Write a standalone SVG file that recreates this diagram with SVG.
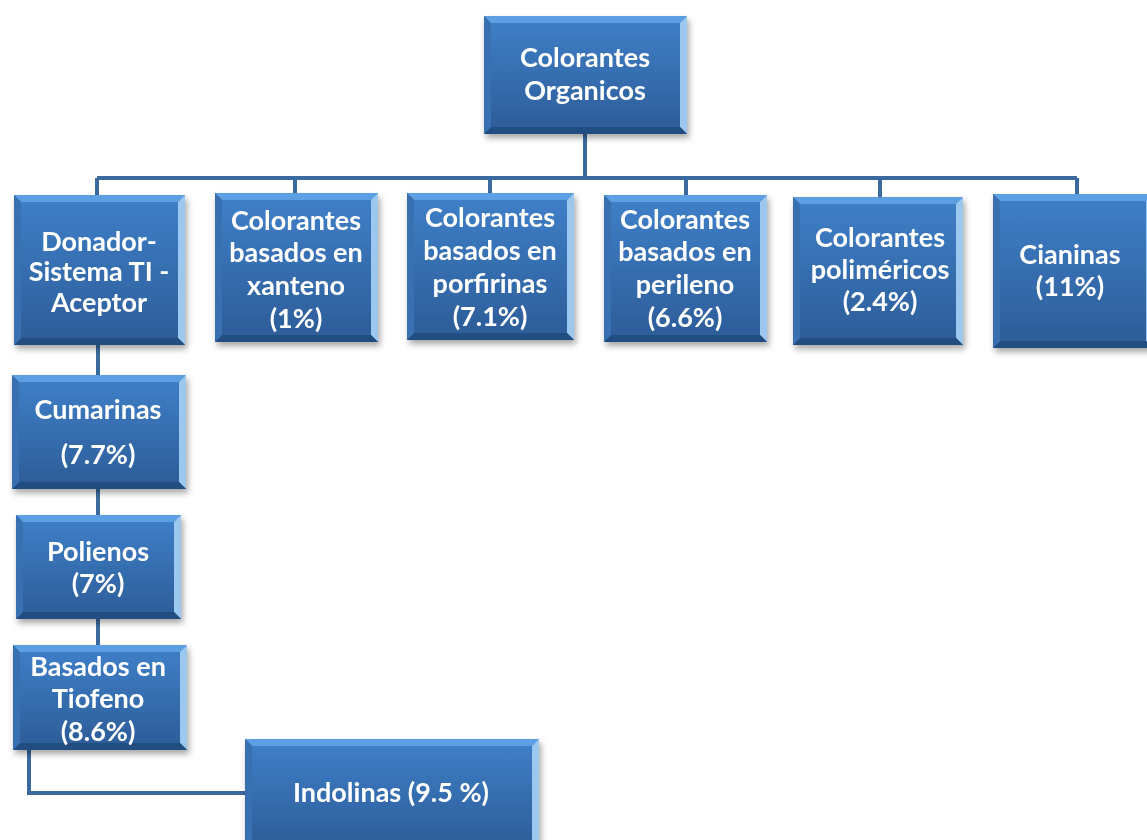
<svg xmlns="http://www.w3.org/2000/svg" width="1147" height="840" viewBox="0 0 1147 840">
<defs>
<linearGradient id="g" x1="0" y1="0" x2="0" y2="1">
<stop offset="0" stop-color="#3f80c9"/>
<stop offset="1" stop-color="#2c5c97"/>
</linearGradient>
<filter id="sh" x="-10%" y="-10%" width="130%" height="130%">
<feDropShadow dx="2" dy="4" stdDeviation="3" flood-color="#000" flood-opacity="0.35"/>
</filter>
</defs>
<style>
.box{fill:url(#g)}
.bt{fill:#5d9fe3}
.br{fill:#9cc8f0}
.bb{fill:#244d80}
.bl{fill:#3870b2}
.n{filter:url(#sh)}
.t{font-family:Lato,"Open Sans","DejaVu Sans",sans-serif;font-weight:700;font-size:27px;fill:#fff;text-anchor:middle}
.c{fill:none;stroke:#3b6a9f;stroke-width:4}
</style>
<rect width="1147" height="840" fill="#fff"/>
<g id="connectors" class="c">
<path d="M585,134 V178"/>
<path d="M97,178 H1077"/>
<path d="M97,178 V195 M295,178 V193 M490,178 V193 M686,178 V195 M880,178 V197 M1077,178 V194"/>
<path d="M98,345 V375 M98,489 V515 M98,619 V645"/>
<path d="M29,750 V793 H245"/>
</g>
<g id="root" class="n">
<rect class="box" x="484" y="16" width="203" height="118"/>
<polygon class="bt" points="484,16 687,16 680,23 491,23"/>
<polygon class="br" points="687,16 687,134 680,127 680,23"/>
<polygon class="bb" points="484,134 687,134 680,127 491,127"/>
<polygon class="bl" points="484,16 491,23 491,127 484,134"/>
<text class="t" x="585" y="67">Colorantes</text>
<text class="t" x="585" y="100">Organicos</text>
</g>
<g id="donador" class="n">
<rect class="box" x="14" y="195" width="171" height="150"/>
<polygon class="bt" points="14,195 185,195 178,202 21,202"/>
<polygon class="br" points="185,195 185,345 178,338 178,202"/>
<polygon class="bb" points="14,345 185,345 178,338 21,338"/>
<polygon class="bl" points="14,195 21,202 21,338 14,345"/>
<text class="t" x="99" y="251">Donador-</text>
<text class="t" x="99" y="281">Sistema TI -</text>
<text class="t" x="99" y="312">Aceptor</text>
</g>
<g id="xanteno" class="n">
<rect class="box" x="215" y="193" width="163" height="149"/>
<polygon class="bt" points="215,193 378,193 371,200 222,200"/>
<polygon class="br" points="378,193 378,342 371,335 371,200"/>
<polygon class="bb" points="215,342 378,342 371,335 222,335"/>
<polygon class="bl" points="215,193 222,200 222,335 215,342"/>
<text class="t" x="296" y="230">Colorantes</text>
<text class="t" x="296" y="262">basados en</text>
<text class="t" x="296" y="295">xanteno</text>
<text class="t" x="296" y="328">(1%)</text>
</g>
<g id="porfirinas" class="n">
<rect class="box" x="407" y="193" width="167" height="147"/>
<polygon class="bt" points="407,193 574,193 567,200 414,200"/>
<polygon class="br" points="574,193 574,340 567,333 567,200"/>
<polygon class="bb" points="407,340 574,340 567,333 414,333"/>
<polygon class="bl" points="407,193 414,200 414,333 407,340"/>
<text class="t" x="490" y="227">Colorantes</text>
<text class="t" x="490" y="260">basados en</text>
<text class="t" x="490" y="293">porfirinas</text>
<text class="t" x="490" y="326">(7.1%)</text>
</g>
<g id="perileno" class="n">
<rect class="box" x="604" y="195" width="163" height="147"/>
<polygon class="bt" points="604,195 767,195 760,202 611,202"/>
<polygon class="br" points="767,195 767,342 760,335 760,202"/>
<polygon class="bb" points="604,342 767,342 760,335 611,335"/>
<polygon class="bl" points="604,195 611,202 611,335 604,342"/>
<text class="t" x="685" y="229">Colorantes</text>
<text class="t" x="685" y="261">basados en</text>
<text class="t" x="685" y="294">perileno</text>
<text class="t" x="685" y="327">(6.6%)</text>
</g>
<g id="polimericos" class="n">
<rect class="box" x="793" y="197" width="170" height="148"/>
<polygon class="bt" points="793,197 963,197 956,204 800,204"/>
<polygon class="br" points="963,197 963,345 956,338 956,204"/>
<polygon class="bb" points="793,345 963,345 956,338 800,338"/>
<polygon class="bl" points="793,197 800,204 800,338 793,345"/>
<text class="t" x="880" y="247">Colorantes</text>
<text class="t" x="880" y="279">poliméricos</text>
<text class="t" x="880" y="311">(2.4%)</text>
</g>
<g id="cianinas" class="n">
<rect class="box" x="993" y="194" width="160" height="154"/>
<polygon class="bt" points="993,194 1153,194 1146,201 1000,201"/>
<polygon class="br" points="1153,194 1153,348 1146,341 1146,201"/>
<polygon class="bb" points="993,348 1153,348 1146,341 1000,341"/>
<polygon class="bl" points="993,194 1000,201 1000,341 993,348"/>
<text class="t" x="1070" y="264">Cianinas</text>
<text class="t" x="1070" y="296">(11%)</text>
</g>
<g id="cumarinas" class="n">
<rect class="box" x="12" y="375" width="174" height="114"/>
<polygon class="bt" points="12,375 186,375 179,382 19,382"/>
<polygon class="br" points="186,375 186,489 179,482 179,382"/>
<polygon class="bb" points="12,489 186,489 179,482 19,482"/>
<polygon class="bl" points="12,375 19,382 19,482 12,489"/>
<text class="t" x="98" y="419">Cumarinas</text>
<text class="t" x="98" y="464">(7.7%)</text>
</g>
<g id="polienos" class="n">
<rect class="box" x="16" y="515" width="165" height="104"/>
<polygon class="bt" points="16,515 181,515 174,522 23,522"/>
<polygon class="br" points="181,515 181,619 174,612 174,522"/>
<polygon class="bb" points="16,619 181,619 174,612 23,612"/>
<polygon class="bl" points="16,515 23,522 23,612 16,619"/>
<text class="t" x="98" y="561">Polienos</text>
<text class="t" x="98" y="593">(7%)</text>
</g>
<g id="tiofeno" class="n">
<rect class="box" x="13" y="645" width="174" height="105"/>
<polygon class="bt" points="13,645 187,645 180,652 20,652"/>
<polygon class="br" points="187,645 187,750 180,743 180,652"/>
<polygon class="bb" points="13,750 187,750 180,743 20,743"/>
<polygon class="bl" points="13,645 20,652 20,743 13,750"/>
<text class="t" x="98" y="676">Basados en</text>
<text class="t" x="98" y="708">Tiofeno</text>
<text class="t" x="98" y="741">(8.6%)</text>
</g>
<g id="indolinas" class="n">
<rect class="box" x="245" y="739" width="294" height="110"/>
<polygon class="bt" points="245,739 539,739 532,746 252,746"/>
<polygon class="br" points="539,739 539,849 532,842 532,746"/>
<polygon class="bl" points="245,739 252,746 252,842 245,849"/>
<text class="t" x="391" y="802">Indolinas (9.5 %)</text>
</g>
</svg>
